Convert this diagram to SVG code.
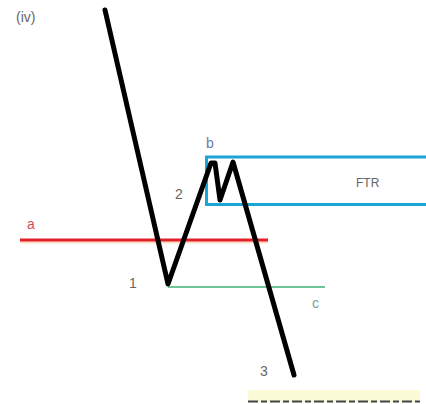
<svg xmlns="http://www.w3.org/2000/svg" width="426" height="404" viewBox="0 0 426 404">
<style>
.lbl{font-family:"Liberation Sans",Arial,sans-serif;font-size:14px;fill:#666}
</style>
<rect width="426" height="404" fill="#fff"/>
<g id="connectors">
<rect x="248" y="390" width="172" height="12" fill="#fbfbd8"/>
<line x1="248" y1="401.5" x2="420" y2="401.5" stroke="#444" stroke-width="2" stroke-dasharray="10,3,6,3"/>
<line x1="20" y1="242" x2="268" y2="242" stroke="#f7c9a0" stroke-width="3" opacity="0.6"/>
<line x1="20" y1="240" x2="268" y2="240" stroke="#e2202c" stroke-width="3"/>
<line x1="168" y1="287" x2="325" y2="287" stroke="#70c49a" stroke-width="2"/>
<path d="M426 157 H206.5 V204.5 H426" fill="none" stroke="#1aa6d4" stroke-width="3"/>
<polyline points="105,10 168,284 211,163 215,163 220,200 233,162 294,375" fill="none" stroke="#000" stroke-width="5" stroke-linejoin="round" stroke-linecap="round"/>
</g>
<g id="labels">
<text class="lbl" x="16" y="22" style="font-size:14px">(iv)</text>
<text class="lbl" x="206" y="148" style="fill:#7078a8">b</text>
<text class="lbl" x="175" y="199">2</text>
<text class="lbl" x="27" y="229" style="fill:#d05060">a</text>
<text class="lbl" x="129" y="288">1</text>
<text class="lbl" x="312" y="308" style="fill:#70a0a0">c</text>
<text class="lbl" x="260" y="376">3</text>
<text class="lbl" x="356" y="187" style="font-size:12px">FTR</text>
</g>
</svg>
